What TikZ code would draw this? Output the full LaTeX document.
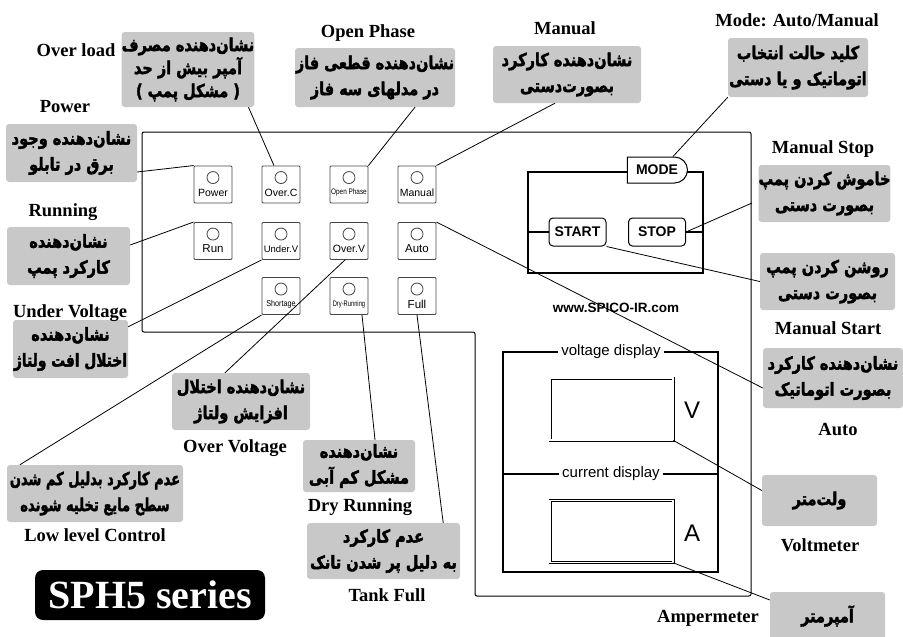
\documentclass[tikz,border=0pt]{standalone}
\usepackage{fontspec}
\usepackage{graphicx}
\setmainfont{Liberation Serif}
\setsansfont{Liberation Sans}
\newfontfamily\fa[Script=Arabic, BoldFont={DejaVu Sans Bold}, BoldFeatures={FakeBold=2.5}]{DejaVu Sans}
\TeXXeTstate=1
\usetikzlibrary{shapes.misc}
\definecolor{calgray}{RGB}{200,200,200}
\definecolor{ledgray}{RGB}{70,70,70}
\newcommand\pl[1]{\scalebox{1}[1.22]{\beginR #1\endR}}
\newcommand\ledbox[4]{%
  \node[led] (#1) at (#2,#3) {};
  \draw[ledgray, line width=0.8pt] ([yshift=-12pt]#1.north) circle[radius=6pt];
  \node[ledtext] (#1t) at ([yshift=-27pt]#1.north) {#4};}
\begin{document}
\begin{tikzpicture}[x=1pt,y=-1pt,
  callout/.style={fill=calgray, rounded corners=3pt, inner sep=0pt, align=center,
    font=\fa\bfseries\fontsize{14.5}{26}\selectfont},
  lbl/.style={font=\bfseries\fontsize{18.5}{20}\selectfont, inner sep=0pt},
  led/.style={draw=ledgray, line width=0.9pt, rounded corners=1pt, minimum width=38pt,
    minimum height=37pt, inner sep=0pt},
  ledtext/.style={font=\sffamily\fontsize{10.5}{10.5}\selectfont, inner sep=0pt},
  conn/.style={line width=0.8pt},
  btn/.style={draw, line width=1pt, fill=white, rounded corners=4pt, minimum width=57pt,
    minimum height=28pt, inner sep=0pt, font=\sffamily\bfseries\fontsize{14}{14}\selectfont},
  disp/.style={draw, double, double distance=1.6pt, line width=0.7pt, minimum width=123pt,
    minimum height=62pt, inner sep=0pt},
  dtext/.style={fill=white, inner sep=3pt, font=\sffamily\fontsize{15}{15}\selectfont}
]
\useasboundingbox (0,0) rectangle (903,637);

% main panel
\draw[line width=1pt, rounded corners=2pt] (142,132) -- (751,132) -- (751,596) -- (475,596)
  -- (475,332) -- (142,332) -- cycle;

% LEDs
\ledbox{pow}{213}{184.5}{Power}
\ledbox{ovc}{281}{184.5}{Over.C}
\ledbox{oph}{349}{184.5}{\fontsize{8}{8}\selectfont\scalebox{0.8}[1]{Open Phase}}
\ledbox{manl}{417}{184.5}{Manual}
\ledbox{run}{213}{241}{\fontsize{11.5}{11.5}\selectfont Run}
\ledbox{undv}{281}{241}{\fontsize{9.5}{9.5}\selectfont Under.V}
\ledbox{ovv}{349}{241}{Over.V}
\ledbox{autol}{417}{241}{\fontsize{11.5}{11.5}\selectfont Auto}
\ledbox{short}{281}{296}{\fontsize{8.5}{8.5}\selectfont\scalebox{0.85}[1]{Shortage}}
\ledbox{dryl}{349}{296}{\fontsize{8}{8}\selectfont\scalebox{0.72}[1]{Dry-Running}}
\ledbox{full}{417}{296}{\fontsize{11.5}{11.5}\selectfont Full}

% control block
\node[draw, line width=1.8pt, minimum width=175pt, minimum height=101pt, inner sep=0pt]
  (ctrl) at (615.5,222.5) {};
\node[draw, line width=1pt, fill=white, rounded rectangle, rounded rectangle west arc=none,
  minimum width=60pt, minimum height=26pt, inner sep=0pt,
  font=\sffamily\bfseries\fontsize{14}{14}\selectfont] (modeb) at (657,170) {MODE};
\node[btn] (start) at (577.5,232) {START};
\node[btn] (stop) at (657,232) {STOP};
\draw[line width=1.8pt] (start.west -| ctrl.west) -- (start.west);
\draw[line width=1.8pt] (stop.east) -- (stop.east -| ctrl.east);
\node[font=\sffamily\bfseries\fontsize{13.5}{13.5}\selectfont, inner sep=0pt] (web)
  at (616,308) {www.SPICO-IR.com};

% display block
\node[draw, line width=1.2pt, minimum width=215pt, minimum height=220pt, inner sep=0pt]
  (dbox) at (610.5,462) {};
\draw[line width=1.2pt] (503,474) -- (718,474);
\node[dtext] (vdt) at (611,352) {voltage display};
\node[dtext] (cdt) at (611,474) {current display};
\node[disp] (vdisp) at (611.5,409) {};
\node[disp] (adisp) at (611.5,531.5) {};
\node[font=\sffamily\fontsize{24}{24}\selectfont, inner sep=0pt] (vl) at (692,410) {V};
\node[font=\sffamily\fontsize{24}{24}\selectfont, inner sep=0pt] (al) at (692,533) {A};

% series badge
\node[fill=black, rounded corners=8pt, minimum width=230pt, minimum height=50pt, inner sep=0pt,
  text=white, font=\bfseries\fontsize{40}{40}\selectfont] (series) at (150,595) {SPH5 series};

% callouts
\node[callout, minimum width=132pt, minimum height=75pt,
  font=\fa\bfseries\fontsize{14.5}{23}\selectfont] (ovlc) at (188,69.5)
  {\pl{نشان‌دهنده مصرف}\\\pl{آمپر بیش از حد}\\\pl{( مشکل پمپ )}};
\node[callout, minimum width=160pt, minimum height=59pt] (ophc) at (375,77.5)
  {\pl{نشان‌دهنده قطعی فاز}\\\pl{در مدلهای سه فاز}};
\node[callout, minimum width=148pt, minimum height=57pt] (manc) at (567,74.5)
  {\pl{نشان‌دهنده کارکرد}\\\pl{بصورت‌دستی}};
\node[callout, minimum width=140pt, minimum height=59pt] (modec) at (798,67.5)
  {\pl{کلید حالت انتخاب}\\\pl{اتوماتیک و یا دستی}};
\node[callout, minimum width=125pt, minimum height=57pt] (stopc) at (824.5,193.5)
  {\pl{خاموش کردن پمپ}\\\pl{بصورت دستی}};
\node[callout, minimum width=131pt, minimum height=58pt] (powc) at (71.5,153)
  {\pl{نشان‌دهنده وجود}\\\pl{برق در تابلو}};
\node[callout, minimum width=123pt, minimum height=58pt] (runc) at (68.5,256)
  {\pl{نشان‌دهنده}\\\pl{کارکرد پمپ}};
\node[callout, minimum width=115pt, minimum height=58pt] (undc) at (70.5,349)
  {\pl{نشان‌دهنده}\\\scalebox{0.95}[1.22]{\beginR اختلال افت ولتاژ\endR}};
\node[callout, minimum width=135pt, minimum height=57pt] (startc) at (827.5,281.5)
  {\pl{روشن کردن پمپ}\\\pl{بصورت دستی}};
\node[callout, minimum width=140pt, minimum height=60pt] (autoc) at (833,378)
  {\pl{نشان‌دهنده کارکرد}\\\pl{بصورت اتوماتیک}};
\node[callout, minimum width=138pt, minimum height=57pt] (ovvc) at (241,401.5)
  {\pl{نشان‌دهنده اختلال}\\\pl{افزایش ولتاژ}};
\node[callout, minimum width=112pt, minimum height=52pt] (dryc) at (359,466)
  {\pl{نشان‌دهنده}\\\pl{مشکل کم آبی}};
\node[callout, minimum width=176pt, minimum height=57pt] (lowc) at (95,493.5)
  {\scalebox{0.9}[1.22]{\beginR عدم کارکرد بدلیل کم شدن\endR}\\\scalebox{0.9}[1.22]{\beginR سطح مایع تخلیه شونده\endR}};
\node[callout, minimum width=153pt, minimum height=56pt] (tankc) at (383.5,551)
  {\pl{عدم کارکرد}\\\pl{به دلیل پر شدن تانک}};
\node[callout, minimum width=115pt, minimum height=51pt] (voltc) at (819.5,500.5)
  {\pl{ولت‌متر}};
\node[callout, minimum width=115pt, minimum height=48pt] (ampc) at (827.5,616)
  {\pl{آمپرمتر}};

% English labels
\node[lbl] (l1) at (76,50) {Over load};
\node[lbl] (l2) at (65,107) {Power};
\node[lbl] (l3) at (368,33) {Open Phase};
\node[lbl] (l4) at (565,28) {Manual};
\node[lbl] (l5) at (797,20) {Mode: Auto/Manual};
\node[lbl] (l6) at (823,149) {Manual Stop};
\node[lbl] (l7) at (63,212) {Running};
\node[lbl] (l8) at (70,313) {Under Voltage};
\node[lbl] (l9) at (828,328) {Manual Start};
\node[lbl] (l10) at (838,430) {Auto};
\node[lbl] (l11) at (235,448) {Over Voltage};
\node[lbl] (l12) at (360,507) {Dry Running};
\node[lbl] (l13) at (95,535) {Low level Control};
\node[lbl] (l14) at (387,595) {Tank Full};
\node[lbl] (l15) at (820,545) {Voltmeter};
\node[lbl] (l16) at (708,618) {Ampermeter};

% connectors
\coordinate (stopend) at (752,203);
\draw[conn] (powc.east |- 0,172) -- (pow.north west);
\draw[conn] ([xshift=-6pt]ovlc.south east) -- ([xshift=-7pt]ovc.north);
\draw[conn] ([xshift=40pt]ophc.south) -- (oph.north east);
\draw[conn] ([xshift=-12pt]manc.south) -- (manl.north east);
\draw[conn] (modec.south west) -- ([xshift=16pt]modeb.north);
\draw[conn] (stop.east) -- (stopend);
\draw[conn] (start.south east) -- (startc.west);
\draw[conn] (autol.north east) -- ([yshift=-10pt]autoc.west);
\draw[conn] ([yshift=11pt]runc.east) -- (run.north west);
\draw[conn] ([yshift=-7pt]undc.north east) -- (undv.south west);
\draw[conn] ([xshift=13pt]lowc.north west) -- (short.south west);
\draw[conn] ([xshift=-4pt]ovv.south) -- ([xshift=-16pt]ovvc.north);
\draw[conn] ([xshift=13pt]dryl.south) -- ([xshift=16pt]dryc.north);
\draw[conn] (full.south) -- ([xshift=-17pt]tankc.north east);
\draw[conn] (vdisp.south east) -- ([yshift=10pt]voltc.west);
\draw[conn] (adisp.south east) -- ([yshift=16pt]ampc.west);
\end{tikzpicture}
\end{document}
